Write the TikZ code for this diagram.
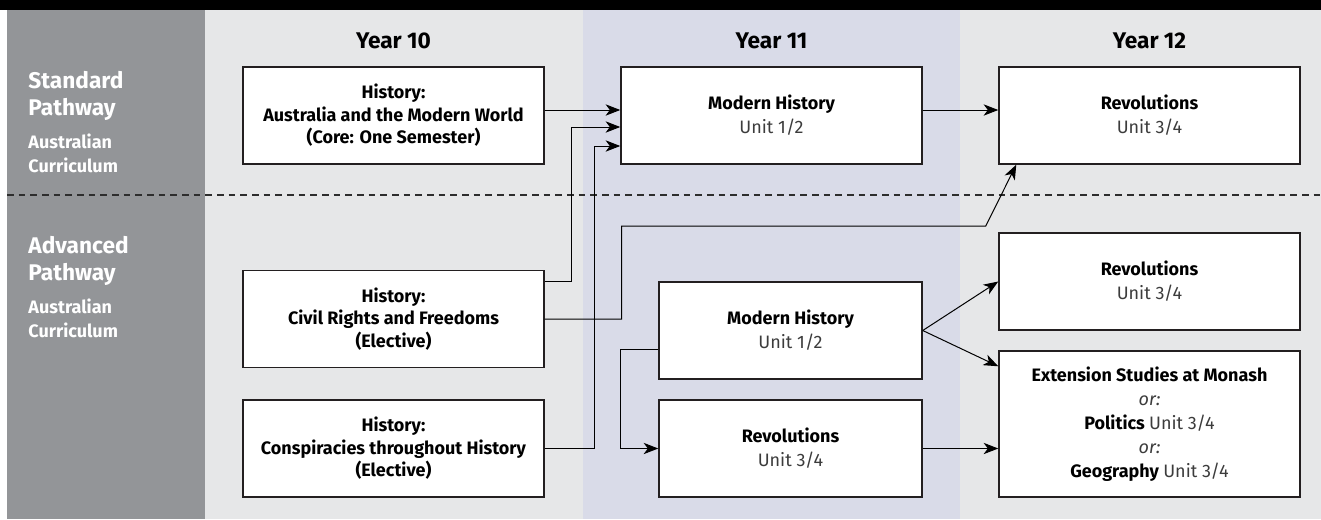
\documentclass[tikz,border=0pt]{standalone}
\usepackage{fontspec}
\setmainfont{Fira Sans}
\usetikzlibrary{arrows.meta,calc}

\definecolor{sidegray}{RGB}{147,149,152}
\definecolor{bandgray}{RGB}{230,231,232}
\definecolor{bandblue}{RGB}{217,219,232}
\definecolor{boxline}{RGB}{35,31,32}
\definecolor{unitgray}{RGB}{60,60,60}
\definecolor{dashgray}{RGB}{45,45,45}

\tikzset{every picture/.style={line width=0.75pt}}
\tikzset{
  course/.style={draw=boxline, line width=1.1pt, fill=white, align=center, inner sep=0pt,
    minimum width=225.75pt, minimum height=72.75pt,
    font=\fontsize{13.5}{18}\selectfont\bfseries},
  elective/.style={course, font=\fontsize{13.5}{16.9}\selectfont\bfseries},
  yearhead/.style={inner sep=0pt, anchor=base, font=\fontsize{17}{20}\selectfont\bfseries},
  sidehead/.style={inner sep=0pt, anchor=base west, text=white, font=\fontsize{17}{20}\selectfont\bfseries},
  sidesub/.style={inner sep=0pt, anchor=base west, text=white, font=\fontsize{13.5}{16}\selectfont\bfseries},
  arr/.style={draw=black, line width=0.75pt, -{Stealth[length=11pt,width=8.5pt,inset=3.2pt]}}
}
\newcommand{\unitline}[1]{{\mdseries\color{unitgray}#1}}

\begin{document}
\begin{tikzpicture}[x=0.75pt,y=0.75pt,yscale=-1,xscale=1]
\useasboundingbox (0,0) rectangle (1321,519);

%Shape: background bands
\fill[white] (0,0) rectangle (1321,519);
\fill[black] (0,0) rectangle (1321,10);
\fill[sidegray] (7,10) rectangle (205,519);
\fill[bandgray] (205,10) rectangle (583,519);
\fill[bandblue] (583,10) rectangle (960,519);
\fill[bandgray] (960,10) rectangle (1321,519);
%Straight Lines: pathway divider
\draw[dashgray, line width=1pt, dash pattern=on 5pt off 3.75pt] (7,195) -- (1321,195);

% Text Node: pathway labels
\foreach \off/\word [count=\k] in {0/Standard,165/Advanced} {
  \node[sidehead] (side\k a) at (28,88+\off) {\word};
  \node[sidehead] (side\k b) at (28,115+\off) {Pathway};
  \node[sidesub] (side\k c) at (28,148+\off) {Australian};
  \node[sidesub] (side\k d) at (28,172+\off) {Curriculum};
}

% Text Node: year headings
\node[yearhead] (head10) at (393.5,48) {Year 10};
\node[yearhead] (head11) at (771.5,48) {Year 11};
\node[yearhead] (head12) at (1149.5,48) {Year 12};

%Shape: Year 10 courses
\node[elective] (tenA) at (393.5,115.5) {History:\\Australia and the Modern World\\(Core: One Semester)};
\node[elective] (tenB) at (393.5,319) {History:\\Civil Rights and Freedoms\\(Elective)};
\node[elective] (tenC) at (393.5,448.5) {History:\\Conspiracies throughout History\\(Elective)};

%Shape: Year 11 courses
\node[course] (elevA) at (771.5,115.5) {Modern History\\\unitline{Unit 1/2}};
\node[course, minimum width=197.25pt] (elevB) at (790.5,330.5) {Modern History\\\unitline{Unit 1/2}};
\node[course, minimum width=197.25pt] (elevC) at (790.5,448.5) {Revolutions\\\unitline{Unit 3/4}};

%Shape: Year 12 courses
\node[course] (twelA) at (1149.5,115.5) {Revolutions\\\unitline{Unit 3/4}};
\node[course] (twelB) at (1149.5,281.5) {Revolutions\\\unitline{Unit 3/4}};
\node[course, minimum height=109.5pt] (twelC) at (1149.5,424) {Extension Studies at Monash\\\unitline{\itshape or:}\\Politics \unitline{Unit 3/4}\\\unitline{\itshape or:}\\Geography \unitline{Unit 3/4}};

%Straight Lines: standard pathway
\draw[arr] ($(tenA.east)+(0,-5.5)$) -- ($(elevA.west)+(0,-5.5)$);
\draw[arr] ($(elevA.east)+(0,-5.5)$) -- ($(twelA.west)+(0,-5.5)$);

%Straight Lines: advanced pathway
\draw[arr] ($(tenB.east)+(0,-38)$) -- ++(27,0) |- ($(elevA.west)+(0,11.5)$);
\draw[arr] (tenC.east) -- ++(50,0) |- ($(elevA.west)+(0,30.5)$);
\draw[arr] (tenB.east) -- ++(77,0) -- ++(0,-93) -- ++(364,0) -- ($(twelA.south west)+(18,0)$);
\draw[arr] ($(elevB.west)+(0,18.5)$) -- ++(-38,0) |- (elevC.west);
\draw[arr] (elevB.east) -- (twelB.west);
\draw[arr] (elevB.east) -- ($(twelC.north west)+(0,16)$);
\draw[arr] (elevC.east) -- (elevC.east -| twelC.west);
\end{tikzpicture}
\end{document}
